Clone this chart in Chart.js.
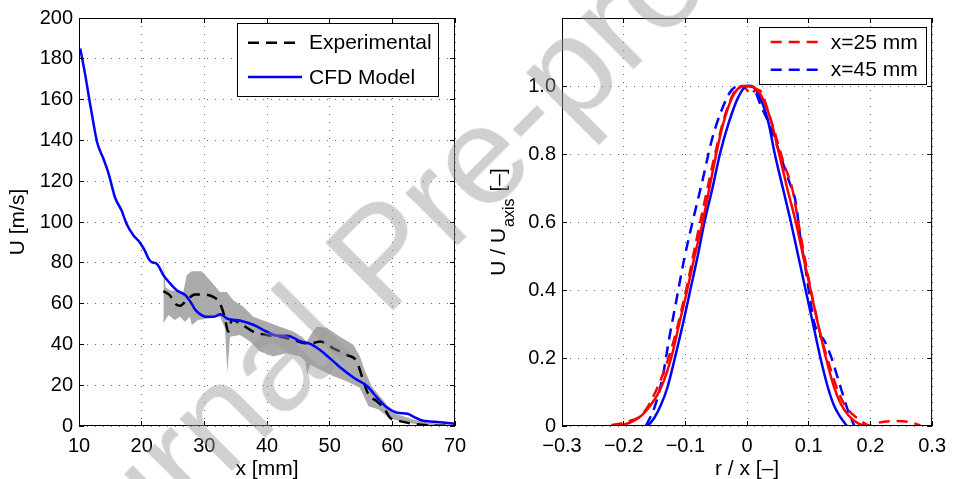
<!DOCTYPE html>
<html>
<head>
<meta charset="utf-8">
<script src="https://cdn.jsdelivr.net/npm/chart.js@4.4.1/dist/chart.umd.min.js"></script>
<style>
  html, body { margin: 0; padding: 0; background: #fff; }
  #wrap { position: relative; width: 954px; height: 479px; overflow: hidden; }
  canvas { position: absolute; top: 0; }
  #axialChart { left: 0; }
  #radialChart { left: 477px; }
  #watermark {
    position: absolute; left: 381px; top: 254px;
    transform: translate(-50%, -50%) rotate(-45deg);
    font: 140px/1 'Liberation Sans', Arial, sans-serif;
    color: rgba(150, 150, 150, 0.45);
    white-space: nowrap; pointer-events: none;
  }
</style>
</head>
<body>
<div id="wrap">
  <canvas id="axialChart" width="477" height="479"></canvas>
  <canvas id="radialChart" width="477" height="479"></canvas>
  <div id="watermark">Journal Pre-proof</div>
</div>
<script>
// left panel: centreline velocity along x
const cfdX = [10.2, 11.0, 11.65, 12.3, 12.9, 13.9, 14.7, 15.75, 16.8, 17.6, 18.7, 19.7, 20.5, 21.1, 21.6, 22.4, 23.5, 24.5, 25.6, 27.0, 27.8, 28.6, 29.5, 30.4, 31.5, 32.6, 33.6, 35.8, 37.9, 40.0, 41.6, 43.2, 45.4, 47.0, 49.1, 51.8, 53.9, 56.0, 57.6, 59.2, 60.8, 62.4, 63.5, 64.6, 66.7, 70.0];
const cfdU = [185, 172, 160, 148.5, 139, 131, 124, 112, 105.6, 99, 93.4, 90, 86, 82, 80.3, 79.5, 73.8, 70, 66.5, 64.1, 60.8, 56.8, 54.5, 53.5, 53.5, 54.8, 52.7, 51.6, 49.5, 46.2, 44.3, 44.3, 41.4, 40.1, 35.7, 28.4, 23.5, 19.5, 13.8, 8.9, 6.5, 6.0, 4.4, 2.8, 2.1, 1.1];

const expX = [23.46, 24.5, 25.3, 26.1, 27.2, 28.5, 29.8, 31.4, 32.5, 33.3, 33.8, 34.4, 35.7, 37.8, 39.9, 42.1, 44.2, 46.1, 47.1, 48.5, 50.6, 52.7, 54.3, 55.4, 56.2, 57.5, 58.8, 59.6, 61.2, 63.4, 66.0, 70.0];
const expU = [66.1, 64.1, 60.1, 58.9, 61.7, 64.4, 64.4, 63.3, 60.1, 52.8, 46.3, 51.9, 50.3, 46.3, 44.6, 43.8, 42.2, 40.6, 40.6, 41.4, 38.1, 34.9, 31.7, 21.9, 15.4, 12.2, 8.1, 4.1, 2.4, 1.1, 0.3, 0];

// experimental scatter band
const upX = [23.46, 23.8, 24.52, 26.65, 27.18, 27.98, 29.57, 30.9, 32.5, 33.56, 34.63, 36.22, 37.82, 39.95, 42.07, 44.2, 45.53, 46.33, 47.13, 47.93, 49.52, 51.65, 53.78, 54.84, 55.64, 56.7, 57.77, 59.1, 60.7, 63.35, 66.0, 70.0];
const upU = [82.8, 68, 66.5, 65.7, 73.9, 75.8, 75.8, 71.4, 65.7, 65.7, 61.7, 58.4, 53.6, 51.1, 48.7, 46.3, 43.8, 41.4, 45.5, 48.7, 48.2, 43.8, 39.8, 34.1, 27, 19.5, 15.4, 10.6, 5.7, 3.2, 1.5, 0.5];
const loX = [23.46, 24.25, 25.3, 26.1, 26.9, 27.7, 28.0, 29.0, 30.9, 32.5, 33.3, 33.67, 34.1, 35.7, 37.3, 38.9, 41.0, 43.1, 45.3, 46.1, 46.4, 46.9, 48.5, 50.6, 52.7, 54.8, 56.2, 57.8, 59.1, 60.2, 62.3, 65.0, 70.0];
const loU = [50.3, 54.4, 51.9, 53.6, 51.1, 53.6, 49.5, 51.9, 52.8, 53.6, 47.9, 26.0, 43.8, 44.6, 41.4, 36.5, 34.1, 35.7, 34.1, 31.7, 25.2, 30.0, 27.6, 24.4, 21.9, 18.7, 9.7, 8.1, 4.9, 3.2, 1.6, 0.5, 0];

// right panel: radial profiles (solid = CFD, dashed = experiment)
const red25X = [-0.217, -0.196, -0.175, -0.155, -0.140, -0.123, -0.110, -0.097, -0.085, -0.072, -0.061, -0.050, -0.040, -0.030, -0.020, -0.010, 0.004, 0.018, 0.030, 0.040, 0.052, 0.065, 0.079, 0.091, 0.103, 0.115, 0.128, 0.140, 0.152, 0.165, 0.180, 0.200];
const red25U = [0, 0.006, 0.025, 0.065, 0.11, 0.2, 0.3, 0.4, 0.5, 0.6, 0.7, 0.8, 0.88, 0.94, 0.98, 0.997, 1.0, 0.985, 0.945, 0.89, 0.8, 0.7, 0.6, 0.5, 0.4, 0.3, 0.2, 0.12, 0.065, 0.03, 0.008, 0];
const blue45X = [-0.161, -0.150, -0.140, -0.129, -0.117, -0.104, -0.092, -0.080, -0.069, -0.056, -0.044, -0.030, -0.014, 0.0, 0.010, 0.023, 0.035, 0.045, 0.058, 0.071, 0.083, 0.095, 0.107, 0.119, 0.131, 0.141, 0.150, 0.162];
const blue45U = [0, 0.025, 0.06, 0.114, 0.2, 0.3, 0.4, 0.5, 0.6, 0.7, 0.8, 0.89, 0.968, 1.0, 0.997, 0.958, 0.89, 0.8, 0.7, 0.6, 0.5, 0.4, 0.3, 0.2, 0.114, 0.06, 0.03, 0];
const exp25X = [-0.220, -0.196, -0.169, -0.145, -0.129, -0.116, -0.097, -0.084, -0.068, -0.054, -0.038, -0.022, -0.009, -0.001, 0.007, 0.014, 0.022, 0.035, 0.047, 0.060, 0.073, 0.085, 0.097, 0.108, 0.119, 0.135, 0.148, 0.161, 0.183, 0.201, 0.214, 0.241, 0.262, 0.281];
const exp25U = [0.002, 0.012, 0.036, 0.114, 0.19, 0.27, 0.415, 0.53, 0.667, 0.783, 0.9, 0.978, 1.0, 0.99, 0.975, 0.99, 0.985, 0.92, 0.85, 0.77, 0.7, 0.58, 0.46, 0.36, 0.27, 0.17, 0.1, 0.055, 0.017, 0, 0.01, 0.0145, 0.012, 0.002];
const exp45X = [-0.164, -0.150, -0.137, -0.126, -0.116, -0.102, -0.086, -0.073, -0.057, -0.041, -0.025, -0.009, 0.007, 0.023, 0.040, 0.055, 0.068, 0.079, 0.086, 0.095, 0.102, 0.108, 0.116, 0.124, 0.135, 0.150, 0.1635, 0.174];
const exp45U = [0, 0.055, 0.143, 0.26, 0.356, 0.49, 0.618, 0.716, 0.842, 0.93, 0.988, 1.0, 1.0, 0.94, 0.87, 0.79, 0.72, 0.657, 0.56, 0.46, 0.376, 0.31, 0.27, 0.255, 0.21, 0.124, 0.046, 0];

const FONT = "'Liberation Sans', Arial, Helvetica, sans-serif";
const GRID = 'rgba(0,0,0,0.6)';
const BAND = '#ababab';
const DASH = [11, 7];

Chart.defaults.font.family = FONT;
Chart.defaults.font.size = 20;
Chart.defaults.color = '#000';

function pts(xs, ys) {
  return xs.map((x, i) => ({ x: x, y: ys[i] }));
}

function align(p) {
  return Math.round(p - 0.5) + 0.5;
}

// closed axes box with inward ticks on all four sides (matlab style)
const frameBox = {
  id: 'frameBox',
  afterDatasetsDraw(chart) {
    const { ctx, chartArea: a, scales } = chart;
    const len = 5;
    ctx.save();
    ctx.strokeStyle = '#000';
    ctx.lineWidth = 1;
    ctx.beginPath();
    scales.x.ticks.forEach(t => {
      const px = align(scales.x.getPixelForValue(t.value));
      ctx.moveTo(px, a.bottom); ctx.lineTo(px, a.bottom - len);
      ctx.moveTo(px, a.top); ctx.lineTo(px, a.top + len);
    });
    scales.y.ticks.forEach(t => {
      const py = align(scales.y.getPixelForValue(t.value));
      ctx.moveTo(a.left, py); ctx.lineTo(a.left + len, py);
      ctx.moveTo(a.right, py); ctx.lineTo(a.right - len, py);
    });
    ctx.stroke();
    ctx.strokeRect(a.left + 0.5, a.top + 0.5, a.right - a.left - 1, a.bottom - a.top - 1);
    ctx.restore();
  }
};

// legend box drawn inside the plot area
const boxLegend = {
  id: 'boxLegend',
  afterDraw(chart, args, opts) {
    if (!opts.rows) return;
    const { ctx, chartArea: a } = chart;
    const x = Math.round(a.right - opts.right - opts.width);
    const y = Math.round(a.top + opts.top);
    ctx.save();
    ctx.fillStyle = '#fff';
    ctx.fillRect(x, y, opts.width, opts.height);
    ctx.strokeStyle = '#000';
    ctx.lineWidth = 1;
    ctx.strokeRect(x + 0.5, y + 0.5, opts.width, opts.height);
    opts.rows.forEach(row => {
      const ds = chart.data.datasets[row.index];
      const ly = y + row.dy;
      ctx.strokeStyle = ds.borderColor;
      ctx.lineWidth = ds.borderWidth;
      ctx.setLineDash(ds.borderDash || []);
      ctx.beginPath();
      ctx.moveTo(x + opts.lineX, ly);
      ctx.lineTo(x + opts.lineX + opts.lineLen, ly);
      ctx.stroke();
      ctx.setLineDash([]);
      ctx.fillStyle = '#000';
      ctx.font = '21px ' + FONT;
      ctx.textAlign = 'left';
      ctx.textBaseline = 'middle';
      ctx.fillText(ds.label, x + opts.textX, ly + 1);
    });
    ctx.restore();
  }
};

// y title with a subscript, for the right panel
const subTitle = {
  id: 'subTitle',
  afterDraw(chart, args, opts) {
    if (!opts.main) return;
    const { ctx, chartArea: a } = chart;
    ctx.save();
    ctx.fillStyle = '#000';
    ctx.textAlign = 'left';
    ctx.textBaseline = 'alphabetic';
    ctx.font = '21px ' + FONT;
    const w1 = ctx.measureText(opts.main).width;
    const w3 = ctx.measureText(opts.tail).width;
    ctx.font = '16px ' + FONT;
    const w2 = ctx.measureText(opts.sub).width;
    const total = w1 + w2 + w3 + 2;
    ctx.translate(a.left - 57, (a.top + a.bottom) / 2 + total / 2);
    ctx.rotate(-Math.PI / 2);
    ctx.font = '21px ' + FONT;
    ctx.fillText(opts.main, 0, 0);
    ctx.font = '16px ' + FONT;
    ctx.fillText(opts.sub, w1 + 1, 9);
    ctx.font = '21px ' + FONT;
    ctx.fillText(opts.tail, w1 + w2 + 2, 0);
    ctx.restore();
  }
};

function lineSet(label, xs, ys, color, dashed) {
  return {
    label: label,
    data: pts(xs, ys),
    borderColor: color,
    borderWidth: 2.5,
    borderDash: dashed ? DASH : [],
    pointRadius: 0,
    cubicInterpolationMode: 'monotone',
    fill: false
  };
}

function baseScale(extra) {
  return Object.assign({
    type: 'linear',
    grid: { color: GRID, lineWidth: 1, drawTicks: false },
    border: { display: false, dash: [1, 7] }
  }, extra);
}

new Chart(document.getElementById('axialChart'), {
  type: 'line',
  data: {
    datasets: [
      lineSet('CFD Model', cfdX, cfdU, '#0000ff', false),
      lineSet('Experimental', expX, expU, '#000000', true),
      {
        label: 'band upper', data: pts(upX, upU),
        borderColor: 'rgba(0,0,0,0)', borderWidth: 0, pointRadius: 0,
        backgroundColor: BAND, fill: '+1', tension: 0
      },
      {
        label: 'band lower', data: pts(loX, loU),
        borderColor: 'rgba(0,0,0,0)', borderWidth: 0, pointRadius: 0,
        fill: false, tension: 0
      }
    ]
  },
  options: {
    responsive: false,
    animation: false,
    events: [],
    layout: { padding: { left: 0, right: 22, top: 14, bottom: 0 } },
    scales: {
      x: baseScale({
        min: 10, max: 70,
        afterFit: s => { s.height = 53; },
        ticks: { stepSize: 10, padding: 8, maxRotation: 0, autoSkip: false },
        title: { display: true, text: 'x [mm]', font: { size: 21 }, padding: { top: 0, bottom: -3 } }
      }),
      y: baseScale({
        min: 0, max: 200,
        afterFit: s => { s.width = 79; },
        ticks: { stepSize: 20, padding: 6, autoSkip: false },
        title: { display: true, text: 'U [m/s]', font: { size: 21 }, padding: { top: 6, bottom: 0 } }
      })
    },
    plugins: {
      legend: { display: false },
      tooltip: { enabled: false },
      boxLegend: {
        right: 16.7, top: 5.3, width: 201, height: 73,
        lineX: 11, lineLen: 54, textX: 72,
        rows: [{ index: 1, dy: 19.7 }, { index: 0, dy: 54 }]
      }
    }
  },
  plugins: [frameBox, boxLegend]
});

new Chart(document.getElementById('radialChart'), {
  type: 'line',
  data: {
    datasets: [
      lineSet('CFD x=25 mm', red25X, red25U, '#ff0000', false),
      lineSet('CFD x=45 mm', blue45X, blue45U, '#0000ff', false),
      lineSet('x=25 mm', exp25X, exp25U, '#ff0000', true),
      lineSet('x=45 mm', exp45X, exp45U, '#0000ff', true)
    ]
  },
  options: {
    responsive: false,
    animation: false,
    events: [],
    layout: { padding: { left: 0, right: 17, top: 14, bottom: 0 } },
    scales: {
      x: baseScale({
        min: -0.3, max: 0.3,
        afterFit: s => { s.height = 53; },
        ticks: {
          stepSize: 0.1, padding: 8, maxRotation: 0, autoSkip: false,
          callback: v => Math.abs(v) < 1e-9 ? '0' : (v < 0 ? '\u2212' : '') + Math.abs(v).toFixed(1)
        },
        title: { display: true, text: 'r / x [\u2013]', font: { size: 21 }, padding: { top: 0, bottom: -3 } }
      }),
      y: baseScale({
        min: 0, max: 1.2,
        afterFit: s => { s.width = 85; },
        ticks: {
          stepSize: 0.2, padding: 6, autoSkip: false,
          callback: v => v > 1.1 ? '' : (v < 1e-9 ? '0' : v.toFixed(1))
        }
      })
    },
    plugins: {
      legend: { display: false },
      tooltip: { enabled: false },
      boxLegend: {
        right: 6.3, top: 9.3, width: 167, height: 57,
        lineX: 11.7, lineLen: 53, textX: 71.7,
        rows: [{ index: 2, dy: 15 }, { index: 3, dy: 42.7 }]
      },
      subTitle: { main: 'U / U', sub: 'axis', tail: ' [\u2013]' }
    }
  },
  plugins: [frameBox, boxLegend, subTitle]
});
</script>
</body>
</html>
